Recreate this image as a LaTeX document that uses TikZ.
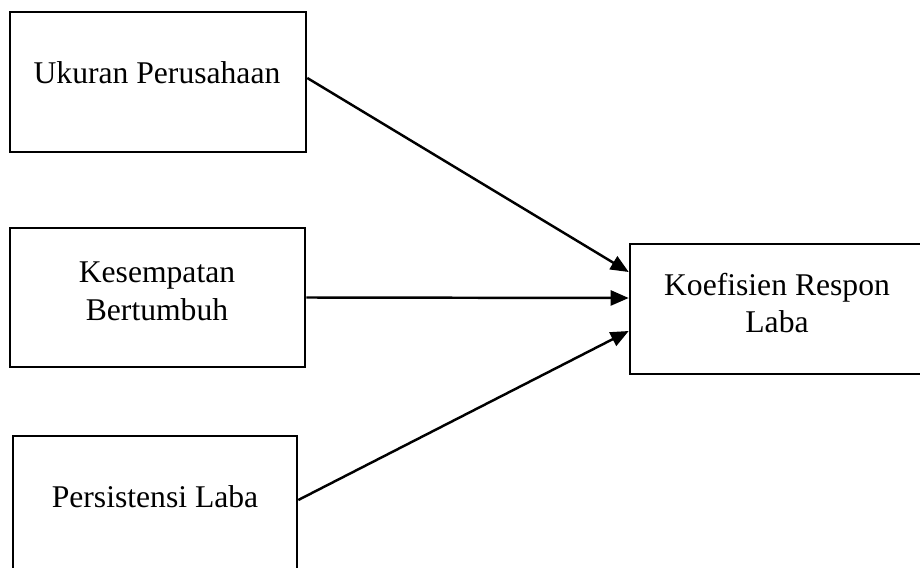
\documentclass[tikz,border=0pt]{standalone}
\usepackage{fontspec}
\setmainfont{Liberation Serif}
\usepackage{tikz}
\usetikzlibrary{positioning,arrows.meta}
\tikzset{
    varbox/.style={rectangle,draw=black,line width=1.5pt,inner sep=0pt},
    vartext/.style={align=center,font=\fontsize{18}{21.6}\selectfont},
    arr/.style={-{Triangle[length=3.6mm,width=3mm]},line width=1.4pt},
}
\begin{document}
\begin{tikzpicture}[x=0.02cm,y=-0.02cm]
\useasboundingbox (0,0) rectangle (920,568);
% independent variables
\node[varbox,minimum width=5.92cm,minimum height=2.8cm] (ukuran) at (158,82) {};
\node[varbox,minimum width=5.9cm,minimum height=2.78cm] (kesempatan) at (157.5,297.5) {};
\node[varbox,minimum width=5.68cm,minimum height=2.72cm] (persistensi) at (155,504) {};
% dependent variable
\node[varbox,minimum width=5.9cm,minimum height=2.6cm] (koefisien) at (777.5,309) {};
\node[vartext] (ukurantxt) at (157,73) {Ukuran Perusahaan};
\node[vartext] (kesempatantxt) at (157,291) {Kesempatan\\Bertumbuh};
\node[vartext] (persistensitxt) at (155,497) {Persistensi Laba};
\node[vartext] (koefisientxt) at (777,303) {Koefisien Respon\\Laba};
\draw[arr] ([yshift=0.08cm]ukuran.east) -- ([yshift=0.74cm]koefisien.west);
\draw[arr] (kesempatan.east) -- ([yshift=0.22cm]koefisien.west);
\draw[arr] ([yshift=0.08cm]persistensi.east) -- ([yshift=-0.44cm]koefisien.west);
\end{tikzpicture}
\end{document}
